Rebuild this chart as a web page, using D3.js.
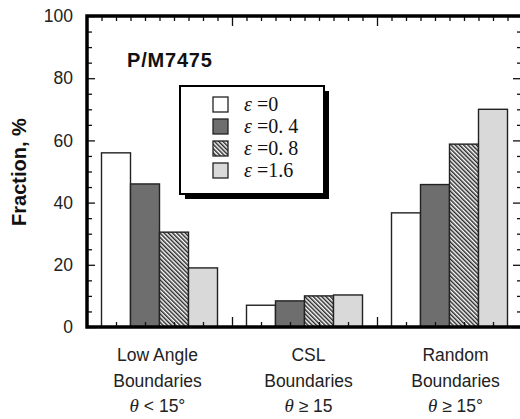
<!DOCTYPE html>
<html>
<head>
<meta charset="utf-8">
<script src="https://cdn.jsdelivr.net/npm/d3@7"></script>
<style>
  html, body { margin: 0; padding: 0; background: #fff; }
  svg { display: block; }
</style>
</head>
<body>
<svg id="chart" width="520" height="419"></svg>
<script>
// Grain-boundary fractions for P/M 7475 at increasing strain
const categories = ["low", "csl", "random"];
const categoryLines = [
  ["Low Angle", "Boundaries", "θ < 15°"],
  ["CSL", "Boundaries", "θ ≥ 15"],
  ["Random", "Boundaries", "θ ≥ 15°"]
];
const strains = ["0", "0.4", "0.8", "1.6"];
const strainLabels = ["=0", "=0. 4", "=0. 8", "=1.6"];
const fractions = [
  [56, 46, 30.5, 19],     // low angle
  [7, 8.4, 10, 10.3],     // CSL
  [36.7, 45.8, 58.8, 70]  // random
];
const yTicks = [0, 20, 40, 60, 80, 100];

const svg = d3.select("#chart");
const plotLeft = 87, plotRight = 522, plotTop = 16, plotBottom = 327;
const sans = "Liberation Sans, Arial, Helvetica, sans-serif";
const serif = "Liberation Serif, Times New Roman, serif";

const x0 = d3.scaleBand().domain(categories).range([plotLeft, plotRight]).paddingInner(0).paddingOuter(0);
const x1 = d3.scaleBand().domain(strains).range([0, x0.bandwidth()]).paddingInner(0).paddingOuter(0.5);
const y = d3.scaleLinear().domain([0, 100]).range([plotBottom, plotTop]);
const xFrame = d3.scaleLinear().domain([0, 30]).range([plotLeft, plotRight]);

// Hatch pattern for the third series
const defs = svg.append("defs");
const pat = defs.append("pattern")
  .attr("id", "hatch").attr("patternUnits", "userSpaceOnUse")
  .attr("width", 3).attr("height", 3)
  .attr("patternTransform", "rotate(-45)");
pat.append("rect").attr("width", 3).attr("height", 3).attr("fill", "#fff");
pat.append("line").attr("x1", 0.75).attr("y1", 0).attr("x2", 0.75).attr("y2", 3)
  .attr("stroke", "#2a2a2a").attr("stroke-width", 1.5);

const fills = ["#ffffff", "#6e6e6e", "url(#hatch)", "#d9d9d9"];

// Bars
const groups = svg.append("g").selectAll("g")
  .data(categories).join("g")
  .attr("transform", d => `translate(${x0(d)},0)`);
groups.selectAll("rect")
  .data((d, i) => strains.map((s, j) => ({ s, j, v: fractions[i][j] })))
  .join("rect")
  .attr("x", d => x1(d.s))
  .attr("width", x1.bandwidth())
  .attr("y", d => y(d.v))
  .attr("height", d => y(0) - y(d.v))
  .attr("fill", d => fills[d.j])
  .attr("stroke", "#222")
  .attr("stroke-width", 1.4);

// Frame ticks (all pointing inward)
const tickStyle = g => {
  g.select(".domain").remove();
  g.selectAll(".tick line").attr("stroke", "#111").attr("stroke-width", 1.3);
};
const minorY = d3.range(0, 101, 5).filter(v => v % 20 !== 0);
// left: major with labels, minor without
svg.append("g").attr("transform", `translate(${plotLeft},0)`)
  .call(d3.axisLeft(y).tickValues(yTicks).tickSizeInner(-8).tickSizeOuter(0).tickPadding(14).tickFormat(d3.format("d")))
  .call(tickStyle)
  .call(g => g.selectAll("text").attr("font-family", sans)
    .attr("font-size", 17.5).attr("fill", "#222"));
svg.append("g").attr("transform", `translate(${plotLeft},0)`)
  .call(d3.axisLeft(y).tickValues(minorY).tickSizeInner(-5).tickSizeOuter(0).tickFormat(""))
  .call(tickStyle);
// right
svg.append("g").attr("transform", `translate(${plotRight},0)`)
  .call(d3.axisRight(y).tickValues(yTicks).tickSizeInner(-9).tickSizeOuter(0).tickFormat(""))
  .call(tickStyle);
svg.append("g").attr("transform", `translate(${plotRight},0)`)
  .call(d3.axisRight(y).tickValues(minorY).tickSizeInner(-5).tickSizeOuter(0).tickFormat(""))
  .call(tickStyle);
// bottom
svg.append("g").attr("transform", `translate(0,${plotBottom})`)
  .call(d3.axisBottom(xFrame).tickValues([10, 20]).tickSizeInner(-10).tickSizeOuter(0).tickFormat(""))
  .call(tickStyle);
svg.append("g").attr("transform", `translate(0,${plotBottom})`)
  .call(d3.axisBottom(xFrame).tickValues(d3.range(2, 30, 2).filter(v => v % 10 !== 0)).tickSizeInner(-5).tickSizeOuter(0).tickFormat(""))
  .call(tickStyle);
// top
svg.append("g").attr("transform", `translate(0,${plotTop})`)
  .call(d3.axisTop(xFrame).tickValues([10, 20]).tickSizeInner(-10).tickSizeOuter(0).tickFormat(""))
  .call(tickStyle);
svg.append("g").attr("transform", `translate(0,${plotTop})`)
  .call(d3.axisTop(xFrame).tickValues(d3.range(1, 30, 1).filter(v => v % 10 !== 0)).tickSizeInner(-5).tickSizeOuter(0).tickFormat(""))
  .call(tickStyle);

// Frame lines
svg.append("path")
  .attr("d", `M${plotLeft},${plotBottom}V${plotTop}H${plotRight}V${plotBottom}Z`)
  .attr("fill", "none").attr("stroke", "#000").attr("stroke-width", 3.5);

// Axis title
svg.append("text")
  .attr("transform", `translate(26,172) rotate(-90)`)
  .attr("text-anchor", "middle")
  .attr("font-family", sans)
  .attr("font-weight", "bold").attr("font-size", 20).attr("fill", "#111")
  .text("Fraction, %");

// Alloy label
svg.append("text")
  .attr("x", 127).attr("y", 67)
  .attr("font-family", sans).attr("letter-spacing", 0.8)
  .attr("font-weight", "bold").attr("font-size", 20).attr("fill", "#111")
  .text("P/M7475");

// Category labels
const labelG = svg.append("g")
  .attr("font-family", sans)
  .attr("font-size", 17.5).attr("fill", "#222").attr("text-anchor", "middle");
categories.forEach((c, i) => {
  const cx = x0(c) + x0.bandwidth() / 2 + (i === 0 ? -2 : i === 1 ? 4 : 6);
  categoryLines[i].forEach((line, k) => {
    const t = labelG.append("text").attr("x", cx).attr("y", 361 + k * 25.5);
    if (k === 2) {
      t.append("tspan").attr("font-family", serif)
        .attr("font-style", "italic").attr("font-size", 19).text("θ");
      t.append("tspan").text(line.slice(1));
    } else {
      t.text(line);
    }
  });
});

// Legend
const lg = svg.append("g").attr("transform", "translate(180,86)");
const lw = 144, lh = 108;
lg.append("rect").attr("x", 5).attr("y", 5).attr("width", lw).attr("height", lh).attr("fill", "#000");
lg.append("rect").attr("width", lw).attr("height", lh).attr("fill", "#fff")
  .attr("stroke", "#000").attr("stroke-width", 2);
strains.forEach((s, j) => {
  const row = lg.append("g").attr("transform", `translate(33,${11 + j * 22})`);
  row.append("rect").attr("width", 15).attr("height", 15)
    .attr("fill", fills[j]).attr("stroke", "#222").attr("stroke-width", 1.3);
  const t = row.append("text").attr("x", 31).attr("y", 14)
    .attr("font-family", serif)
    .attr("font-size", 20).attr("fill", "#111");
  t.append("tspan").attr("font-style", "italic").text("ε");
  t.append("tspan").attr("dx", 5).text(strainLabels[j]);
});
</script>
</body>
</html>
